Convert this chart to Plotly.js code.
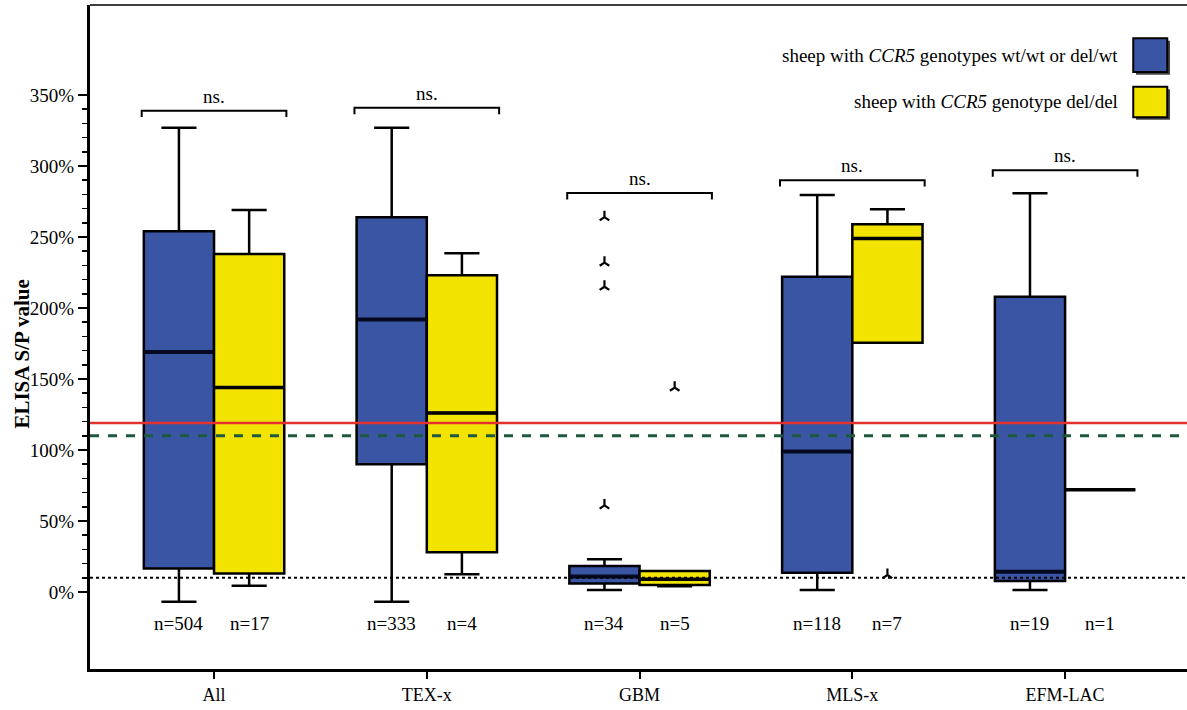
<!DOCTYPE html>
<html>
<head>
<meta charset="utf-8">
<script src="https://cdn.plot.ly/plotly-3.0.1.min.js"></script>
<style>html,body{margin:0;padding:0;background:#fff;}#chart{width:1187px;height:710px;}</style>
</head>
<body>
<div id="chart"></div>
<script>
// ---- data ----
const categories = ['All', 'TEX-x', 'GBM', 'MLS-x', 'EFM-LAC'];

// sheep with CCR5 genotypes wt/wt or del/wt (blue)
const wtLower  = [-6.9, -6.9, 1.4, 1.4, 1.4];
const wtQ1     = [16.6, 90, 6, 13.6, 7.7];
const wtMedian = [169, 192, 11, 99, 14.3];
const wtQ3     = [254, 264, 18.3, 222, 208];
const wtUpper  = [327, 327, 23, 279.6, 280.8];
const wtOutliers = [[], [], [264, 232, 215, 61], [], []];
const wtN      = [504, 333, 34, 118, 19];

// sheep with CCR5 genotype del/del (yellow)
const delLower  = [4.5, 12.5, 4, 175.6, 72];
const delQ1     = [13, 28, 5, 175.6, 72];
const delMedian = [144, 126, 9, 249, 72];
const delQ3     = [238, 223, 14.8, 259, 72];
const delUpper  = [269, 238.6, 14.8, 269.5, 72];
const delOutliers = [[], [], [144], [12], []];
const delN      = [17, 4, 5, 7, 1];

// significance brackets
const bracketLevels = [339, 341, 281, 290, 297];
const bracketLabels = ['ns.', 'ns.', 'ns.', 'ns.', 'ns.'];

// horizontal reference lines
const refLevels = [119, 110, 10];

const yTickVals = [0, 50, 100, 150, 200, 250, 300, 350];
const yTickText = yTickVals.map(v => v + '%');

const legendLabels = ['sheep with <i>CCR5</i> genotypes wt/wt or del/wt', 'sheep with <i>CCR5</i> genotype del/del'];
const yTitle = '<b>ELISA S/P value</b>';

// ---- styling ----
const FONT = 'Liberation Serif, Times New Roman, serif';
const BLUE = '#3b55a5';
const YELLOW = '#f2e400';
const boxgap = 0.34;
const boxW = (1 - boxgap) / 2;  // width of one box in category units
const half = boxW / 2;           // offset of each box centre from category centre
const XRANGE = [-0.583, 4.573];

function boxTrace(q1, med, q3, lo, hi, fill, name) {
  return {
    type: 'box', name: name, showlegend: false,
    x: categories,
    q1: q1, median: med, q3: q3, lowerfence: lo, upperfence: hi,
    boxpoints: false,
    fillcolor: fill,
    line: {color: '#000', width: 2.5},
    whiskerwidth: 0.5,
    hoverinfo: 'skip'
  };
}

function outlierTrace(lists, side) {
  const xs = [], ys = [];
  lists.forEach((arr, i) => arr.forEach(v => { xs.push(i + side * half); ys.push(v); }));
  return {
    type: 'scatter', mode: 'markers', xaxis: 'x2', yaxis: 'y',
    x: xs, y: ys, showlegend: false, hoverinfo: 'skip',
    marker: {symbol: 'y-up', size: 8, color: '#000', line: {color: '#000', width: 2.2}}
  };
}

// thicker median bars drawn over the boxes
function medianTrace(med, side, color, width) {
  const xs = [], ys = [];
  med.forEach((m, i) => {
    const c = i + side * half;
    xs.push(c - boxW / 2, c + boxW / 2, null);
    ys.push(m, m, null);
  });
  return {
    type: 'scatter', mode: 'lines', xaxis: 'x2', yaxis: 'y',
    x: xs, y: ys, showlegend: false, hoverinfo: 'skip',
    line: {color: color, width: width}
  };
}

const data = [
  boxTrace(wtQ1, wtMedian, wtQ3, wtLower, wtUpper, BLUE, 'wt'),
  boxTrace(delQ1, delMedian, delQ3, delLower, delUpper, YELLOW, 'del'),
  medianTrace(wtMedian, -1, '#05081e', 4),
  medianTrace(delMedian, 1, '#000', 3.5),
  outlierTrace(wtOutliers, -1),
  outlierTrace(delOutliers, 1)
];

const shapes = [];
const annotations = [];

// reference lines
shapes.push({type: 'line', xref: 'paper', yref: 'y', x0: 0, x1: 1, y0: refLevels[0], y1: refLevels[0], line: {color: '#e2312f', width: 2.5}});
shapes.push({type: 'line', xref: 'paper', yref: 'y', x0: 0, x1: 1, y0: refLevels[1], y1: refLevels[1], line: {color: '#1d5a3d', width: 3, dash: 'dash'}});
shapes.push({type: 'line', xref: 'paper', yref: 'y', x0: 0, x1: 1, y0: refLevels[2], y1: refLevels[2], line: {color: '#000', width: 2, dash: 'dot'}});

// top frame line
shapes.push({type: 'line', xref: 'paper', yref: 'paper', x0: 0, x1: 1, y0: 1, y1: 1, line: {color: '#000', width: 1.5}});

// brackets + n labels
categories.forEach((c, i) => {
  const b = bracketLevels[i];
  const w = 0.34;
  shapes.push({type: 'path', xref: 'x2', yref: 'y',
    path: `M ${i - w},${b - 4.5} L ${i - w},${b} L ${i + w},${b} L ${i + w},${b - 4.5}`,
    line: {color: '#000', width: 2}});
  annotations.push({xref: 'x2', yref: 'y', x: i, y: b, text: bracketLabels[i], showarrow: false,
    yanchor: 'bottom', yshift: 2, font: {family: FONT, size: 19, color: '#000'}});
  annotations.push({xref: 'x2', yref: 'y', x: i - half, y: -22, text: 'n=' + wtN[i], showarrow: false,
    font: {family: FONT, size: 19, color: '#000'}});
  annotations.push({xref: 'x2', yref: 'y', x: i + half, y: -22, text: 'n=' + delN[i], showarrow: false,
    font: {family: FONT, size: 19, color: '#000'}});
});

// custom legend (text right, box to the right)
const legendFills = [BLUE, YELLOW];
const legendRows = [[0.950, 0.899], [0.877, 0.831]];
legendLabels.forEach((t, k) => {
  const [y1, y0] = legendRows[k];
  shapes.push({type: 'rect', xref: 'paper', yref: 'paper', x0: 0.9535, x1: 0.9845, y0: y0 - 0.004, y1: y1 - 0.004,
    fillcolor: '#444', line: {width: 0}, layer: 'above'});
  shapes.push({type: 'rect', xref: 'paper', yref: 'paper', x0: 0.951, x1: 0.982, y0: y0, y1: y1,
    fillcolor: legendFills[k], line: {color: '#000', width: 2}, layer: 'above'});
  annotations.push({xref: 'paper', yref: 'paper', x: 0.939, y: (y0 + y1) / 2, text: t, showarrow: false,
    xanchor: 'right', yanchor: 'middle', font: {family: FONT, size: 19, color: '#000'}});
});

// y-axis title
annotations.push({xref: 'paper', yref: 'paper', x: -0.062, y: 0.475, text: yTitle, textangle: -90,
  showarrow: false, xanchor: 'center', yanchor: 'middle', font: {family: FONT, size: 21, color: '#000'}});

const minorVals = [];
for (let v = 10; v < 350; v += 10) if (v % 50 !== 0) minorVals.push(v);

const layout = {
  width: 1187, height: 710,
  margin: {l: 90, r: 0, t: 5, b: 41},
  paper_bgcolor: '#fff', plot_bgcolor: '#fff',
  font: {family: FONT, color: '#000', size: 18},
  boxmode: 'group', boxgap: boxgap, boxgroupgap: 0,
  showlegend: false,
  xaxis: {
    type: 'category', range: XRANGE,
    showline: true, linecolor: '#000', linewidth: 3,
    ticks: 'outside', ticklen: 7, tickwidth: 2, tickcolor: '#000',
    showgrid: false, zeroline: false,
    tickfont: {family: FONT, size: 18, color: '#000'}
  },
  xaxis2: {
    type: 'linear', overlaying: 'x', range: XRANGE, visible: false,
    showgrid: false, zeroline: false
  },
  yaxis: {
    range: [-54.2, 413.4],
    tickvals: yTickVals, ticktext: yTickText,
    showline: true, linecolor: '#000', linewidth: 3,
    ticks: 'outside', ticklen: 9, tickwidth: 2, tickcolor: '#000',
    minor: {tickvals: minorVals, ticks: 'outside', ticklen: 5, tickwidth: 1.5, tickcolor: '#000', showgrid: false},
    showgrid: false, zeroline: false,
    tickfont: {family: FONT, size: 19, color: '#000'}
  },
  shapes: shapes,
  annotations: annotations
};

Plotly.newPlot('chart', data, layout, {staticPlot: true, displayModeBar: false});
</script>
</body>
</html>
